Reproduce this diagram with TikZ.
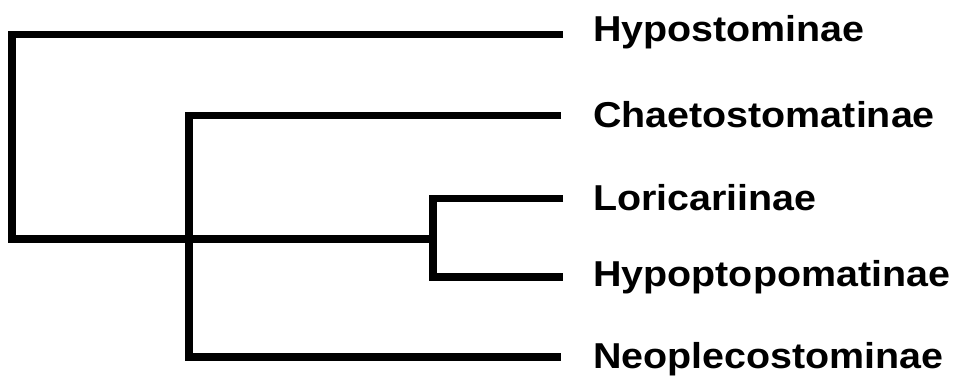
\documentclass[tikz,border=0pt]{standalone}
\usepackage{fontspec}
\usepackage{graphicx}
\setmainfont{Liberation Sans}
\begin{document}
\begin{tikzpicture}[x=1pt,y=-1pt,
  branch/.style={line width=7.5pt,line join=miter,line cap=butt},
  lab/.style={anchor=base west,inner sep=0pt,font=\fontsize{36}{40}\selectfont\bfseries}]
\useasboundingbox (0,0) rectangle (957,380);
% internal nodes
\coordinate (r) at (12,239);
\coordinate (a) at (189,239);
\coordinate (b) at (433,239);
% tips
\coordinate (t1) at (563,34.5);
\coordinate (t2) at (561,115.5);
\coordinate (t3) at (563,198.5);
\coordinate (t4) at (563,277);
\coordinate (t5) at (561,357);
% labels
\node[lab] (l1) at (593,41.7) {\scalebox{1.095}[1]{Hypostominae}};
\node[lab] (l2) at (593,127.5) {\scalebox{1.095}[1]{Chaetostomatinae}};
\node[lab] (l3) at (593,210) {\scalebox{1.095}[1]{Loricariinae}};
\node[lab] (l4) at (593,286.7) {\scalebox{1.095}[1]{Hypoptopomatinae}};
\node[lab] (l5) at (593,368.3) {\scalebox{1.095}[1]{Neoplecostominae}};
% branches
\draw[branch] (t1) -| (r) -- (b);
\draw[branch] (t2) -| (a) |- (t5);
\draw[branch] (t3) -| (b) |- (t4);
\end{tikzpicture}
\end{document}
